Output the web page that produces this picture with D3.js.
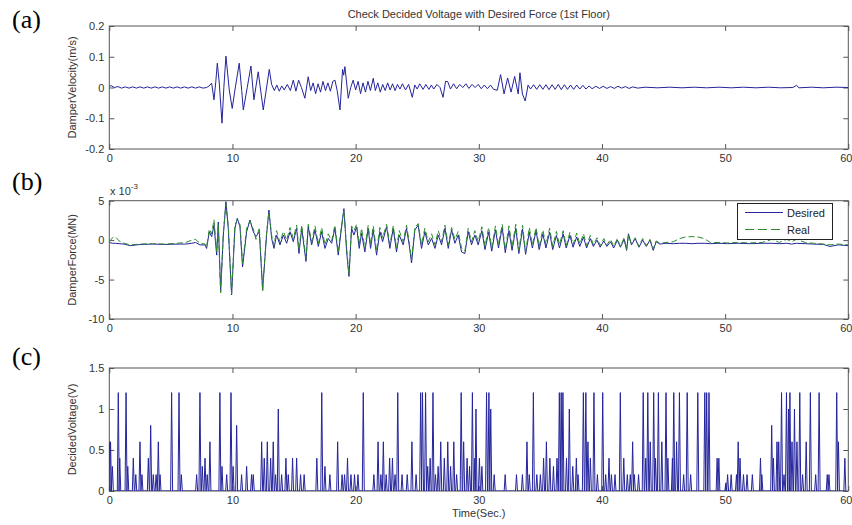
<!DOCTYPE html>
<html>
<head>
<meta charset="utf-8">
<script src="https://d3js.org/d3.v7.min.js"></script>
<style>
  body, html { margin: 0; padding: 0; background: #fff; }
  svg { font-family: Arial, "Liberation Sans", sans-serif; }
  .tick text { fill: #333; font-size: 11px; }
  .tick line { stroke: #555; }
  .domain { display: none; }
</style>
</head>
<body>
<div id="chart"></div>
<script>

// ---- data ----
var timeTicks = [0, 10, 20, 30, 40, 50, 60];
var velocityTicks = [-0.2, -0.1, 0, 0.1, 0.2];
var forceTicks = [-10, -5, 0, 5];        // x 10^-3
var voltageTicks = [0, 0.5, 1, 1.5];

// damper velocity (m/s): [time, value]
var velocity = [
  [0.0, 0.004], [0.15, 0.006], [0.4, 0.0], [0.7, 0.003], [1.0, -0.002], [1.3, 0.002], [1.6, -0.002],
  [1.9, 0.002], [2.2, -0.002], [2.5, 0.002], [2.8, -0.002], [3.1, 0.002], [3.4, -0.002], [3.7, 0.002],
  [4.0, -0.002], [4.3, 0.002], [4.6, -0.002], [4.9, 0.002], [5.2, -0.002], [5.5, 0.002], [5.8, -0.002],
  [6.1, 0.002], [6.4, -0.002], [6.7, 0.002], [7.0, -0.002], [7.3, 0.002], [7.6, -0.002], [7.9, 0.0],
  [8.1, 0.005], [8.31, 0.014], [8.5, -0.04], [8.65, 0.02], [8.77, 0.079], [8.93, 0.014], [9.15, -0.116],
  [9.3, 0.0], [9.47, 0.102], [9.74, -0.008], [9.98, -0.068], [10.2, -0.008], [10.55, 0.079], [10.75, -0.01],
  [10.88, -0.073], [11.2, 0.0], [11.5, 0.07], [11.74, -0.04], [12.09, 0.051], [12.5, -0.073], [12.99, 0.059],
  [13.18, 0.01], [13.4, -0.01], [13.6, 0.008], [13.8, -0.012], [14.0, 0.005], [14.2, -0.008], [14.45, 0.01],
  [14.7, -0.01], [14.94, 0.024], [15.15, -0.012], [15.37, 0.024], [15.6, 0.0], [15.88, -0.035], [16.15, 0.035],
  [16.35, -0.01], [16.55, 0.015], [16.75, -0.02], [16.95, 0.012], [17.15, -0.015], [17.35, 0.02], [17.55, -0.01],
  [17.75, 0.015], [17.95, -0.012], [18.15, 0.02], [18.32, 0.024], [18.5, -0.01], [18.73, -0.073], [18.94, 0.059],
  [19.03, 0.04], [19.13, 0.068], [19.4, -0.035], [19.6, 0.0], [19.8, 0.024], [20.0, -0.008], [20.2, 0.02],
  [20.4, -0.02], [20.6, 0.015], [20.8, -0.015], [21.0, 0.02], [21.2, -0.01], [21.43, 0.03], [21.6, -0.01],
  [21.8, 0.015], [22.0, -0.015], [22.2, 0.01], [22.4, -0.01], [22.6, 0.015], [22.8, -0.008], [23.0, 0.012],
  [23.2, -0.01], [23.4, 0.01], [23.6, -0.005], [23.8, 0.012], [24.05, -0.008], [24.3, 0.01], [24.6, -0.032],
  [24.8, 0.008], [25.0, -0.005], [25.2, 0.012], [25.48, -0.006], [25.7, 0.01], [25.95, -0.006], [26.15, 0.008],
  [26.34, -0.005], [26.6, 0.01], [26.85, 0.0], [27.1, -0.032], [27.3, 0.02], [27.48, 0.019], [27.7, -0.005],
  [27.95, 0.012], [28.2, -0.004], [28.45, 0.01], [28.7, 0.0], [28.95, 0.012], [29.2, -0.003], [29.45, 0.01],
  [29.7, 0.0], [29.95, 0.01], [30.2, -0.004], [30.45, 0.008], [30.7, -0.004], [30.95, 0.008], [31.2, -0.006],
  [31.5, -0.009], [31.77, 0.042], [32.05, -0.021], [32.34, 0.031], [32.62, -0.015], [32.91, 0.036], [33.2, -0.021],
  [33.34, 0.048], [33.54, -0.021], [33.77, -0.044], [34.0, 0.008], [34.2, -0.005], [34.45, 0.009], [34.7, -0.006],
  [34.95, 0.009], [35.2, -0.006], [35.45, 0.009], [35.7, -0.007], [35.95, 0.009], [36.2, -0.006], [36.45, 0.01],
  [36.7, -0.007], [36.95, 0.009], [37.2, -0.006], [37.45, 0.008], [37.7, -0.006], [37.95, 0.008], [38.2, -0.005],
  [38.45, 0.007], [38.7, -0.005], [38.95, 0.005], [39.2, -0.004], [39.5, 0.004], [39.8, -0.003], [40.1, 0.004],
  [40.4, -0.003], [40.7, 0.003], [41.0, -0.003], [41.3, 0.004], [41.6, -0.002], [41.9, 0.003], [42.2, -0.003],
  [42.5, 0.002], [42.9, -0.002], [43.5, 0.001], [44.5, -0.001], [45.5, 0.001], [46.5, -0.001], [47.5, 0.001],
  [48.5, -0.001], [49.5, 0.001], [50.5, -0.001], [51.5, 0.001], [52.5, -0.001], [53.5, 0.001], [54.5, -0.001],
  [55.5, 0.0], [55.8, 0.007], [56.0, -0.001], [57, 0.001], [58, -0.001], [59, 0.001], [60, 0.0]
];

// damper force (x 10^-3 MN): [time, desired, real]
var force = [
  [0.0, -0.3, -0.2], [0.25, -0.4, 0.3], [0.5, -0.4, 0.4], [0.8, -0.45, -0.1], [1.2, -0.5, -0.4],
  [1.7, -0.7, -0.6], [2.5, -0.55, -0.5], [3.5, -0.5, -0.45], [4.5, -0.55, -0.5], [5.5, -0.5, -0.4],
  [6.2, -0.5, -0.3], [6.7, -0.4, 0.0], [7.0, -0.3, 0.1], [7.36, -0.6, -0.4], [7.77, -0.6, -0.5],
  [7.9, -1.05, -0.9], [8.12, 1.07, 1.4], [8.31, 0.44, 0.8], [8.5, 1.9, 2.6], [8.72, -1.9, -1.5],
  [8.85, 2.3, 2.0], [9.04, -6.5, -6.7], [9.26, 0.65, 1.0], [9.47, 4.87, 4.6], [9.66, 1.5, 1.8],
  [9.93, -6.96, -6.8], [10.2, 1.5, 1.9], [10.39, 2.76, 2.6], [10.61, 1.7, 2.0], [10.82, -3.4, -3.0],
  [11.15, 1.07, 1.5], [11.42, 2.55, 2.4], [11.69, 1.07, 1.4], [11.91, 0.44, 0.1], [12.18, 1.07, 1.6],
  [12.45, -6.3, -6.5], [12.77, 0.65, 1.0], [12.96, 3.82, 3.5], [13.18, 0.22, 0.6], [13.37, -1.05, -0.7],
  [13.58, 0.65, 1.2], [13.86, -0.6, -0.3], [14.13, 0.65, 1.1], [14.4, -0.4, 0.0], [14.67, 1.07, 1.6],
  [14.94, -0.2, 0.2], [15.21, 1.5, 1.9], [15.4, -1.7, -1.3], [15.62, 1.5, 1.9], [15.97, -2.7, -2.3],
  [16.15, 1.7, 2.0], [16.43, -0.6, -0.2], [16.7, 1.3, 1.8], [16.97, -0.8, -0.5], [17.24, 1.07, 1.6],
  [17.51, -1.05, -0.6], [17.78, 0.22, 0.8], [18.05, -0.4, -0.1], [18.32, 1.5, 1.9], [18.59, -1.9, -1.6],
  [18.78, 0.65, 1.0], [19.05, 4.0, 3.8], [19.27, -1.5, -1.0], [19.46, -4.6, -4.4], [19.67, 1.5, 1.8],
  [19.86, 0.65, 1.2], [20.08, 1.7, 2.0], [20.29, -1.05, -0.6], [20.48, 0.86, 1.5], [20.75, -1.5, -1.0],
  [21.02, 1.5, 1.9], [21.21, -1.05, -0.6], [21.43, 1.3, 1.8], [21.7, -1.9, -1.4], [21.97, 1.07, 1.6],
  [22.19, -0.2, 0.3], [22.51, 1.7, 2.0], [22.78, -1.05, -0.6], [23.05, 1.5, 1.8], [23.32, -1.5, -1.0],
  [23.54, 0.65, 1.2], [23.86, -0.6, -0.2], [24.13, 1.5, 1.9], [24.35, -0.6, -0.2], [24.54, -2.9, -2.5],
  [24.81, 1.3, 1.6], [25.08, 1.9, 2.1], [25.35, -1.05, -0.6], [25.62, 1.07, 1.5], [25.9, -0.6, -0.2],
  [26.17, 0.22, 0.8], [26.44, -1.05, -0.6], [26.71, 0.65, 1.2], [26.98, -0.6, -0.2], [27.25, 1.5, 1.9],
  [27.52, -1.05, -0.6], [27.79, 1.3, 1.6], [28.06, -0.4, 0.1], [28.33, 0.65, 1.1], [28.6, -1.5, -1.0],
  [28.87, -1.7, -1.4], [29.14, 1.07, 1.5], [29.41, -0.6, -0.2], [29.68, 0.65, 1.2], [29.95, -0.6, -0.2],
  [30.25, 1.2, 1.7], [30.5, -1.2, -0.8], [30.8, 1.0, 1.6], [31.05, -1.4, -1.0], [31.35, 1.3, 1.8],
  [31.6, -1.0, -0.6], [31.9, 1.6, 2.0], [32.15, -1.6, -1.2], [32.45, 1.2, 1.8], [32.7, -1.3, -0.9],
  [33.0, 1.5, 2.0], [33.25, -1.7, -1.3], [33.55, 1.4, 1.9], [33.8, -1.8, -1.5], [34.1, 1.0, 1.6],
  [34.35, -1.0, -0.6], [34.65, 1.2, 1.6], [34.9, -1.2, -0.8], [35.2, 0.8, 1.3], [35.45, -1.0, -0.6],
  [35.75, 1.0, 1.5], [36.0, -1.2, -0.8], [36.3, 0.6, 1.1], [36.55, -1.0, -0.6], [36.85, 0.8, 1.2],
  [37.1, -1.0, -0.7], [37.4, 0.6, 1.0], [37.65, -0.9, -0.6], [37.95, 0.4, 0.9], [38.2, -0.8, -0.5],
  [38.5, 0.4, 0.8], [38.75, -1.0, -0.7], [39.05, 0.2, 0.6], [39.3, -0.8, -0.6], [39.6, 0.0, 0.3],
  [39.85, -0.9, -0.7], [40.15, -0.1, 0.2], [40.4, -0.8, -0.6], [40.7, -0.2, 0.1], [40.95, -1.0, -0.8],
  [41.25, 0.0, 0.2], [41.5, -0.9, -0.8], [41.8, 0.1, 0.3], [42.0, -1.3, -1.2], [42.15, 0.8, 0.6],
  [42.4, -0.6, -0.5], [42.7, 0.2, 0.3], [43.0, -0.9, -0.8], [43.3, 0.0, 0.2], [43.6, -0.8, -0.7],
  [43.9, 0.0, 0.1], [44.16, -1.3, -1.1], [44.4, -0.2, -0.1], [44.7, -0.5, -0.4], [45.2, -0.4, -0.3],
  [45.8, -0.45, -0.2], [46.3, -0.4, 0.2], [46.8, -0.4, 0.4], [47.3, -0.45, 0.45], [47.8, -0.4, 0.4],
  [48.3, -0.4, 0.2], [48.8, -0.45, -0.3], [49.5, -0.4, -0.3], [50.2, -0.45, -0.35], [51, -0.4, -0.3],
  [52, -0.45, -0.35], [53, -0.4, -0.3], [53.8, -0.4, 0.1], [54.4, -0.45, -0.3], [55.0, -0.4, 0.1],
  [55.4, -0.5, -0.2], [55.8, -0.4, 0.1], [56.5, -0.45, -0.3], [57.2, -0.5, -0.4], [58, -0.55, -0.5],
  [58.5, -0.8, -0.6], [59.2, -0.6, -0.5], [60, -0.7, -0.6]
];

// decided voltage (V): spike peaks [time, value]
var voltagePeaks = [
  [0.0, 0.6], [0.1, 0.6], [0.25, 0.3], [0.73, 1.2], [0.85, 0.4], [1.36, 1.2], [1.5, 0.3], [1.95, 0.4],
  [2.15, 0.2], [2.49, 0.6], [2.65, 0.2], [3.17, 0.4], [3.36, 0.8], [3.57, 0.2], [3.8, 0.2], [3.98, 0.6],
  [4.12, 0.2], [5.06, 1.2], [5.66, 1.2], [5.85, 0.2], [7.09, 0.2], [7.36, 1.2], [7.55, 0.3], [7.77, 0.4],
  [7.95, 0.2], [8.17, 0.6], [8.98, 1.2], [9.15, 0.3], [9.53, 0.2], [9.88, 1.2], [10.05, 0.3], [10.34, 0.8],
  [10.74, 0.2], [11.15, 0.3], [11.55, 0.2], [11.69, 0.2], [12.37, 0.6], [12.58, 0.4], [12.83, 0.6],
  [13.1, 0.4], [13.31, 0.6], [13.5, 0.2], [13.72, 1.0], [13.99, 0.2], [14.34, 0.4], [14.53, 0.2],
  [14.88, 0.4], [15.21, 0.4], [15.53, 0.2], [15.82, 0.2], [16.85, 0.4], [17.25, 1.2], [17.51, 0.3],
  [17.91, 0.2], [18.54, 0.6], [18.9, 0.2], [19.1, 0.2], [19.34, 0.4], [19.62, 0.2], [19.91, 0.2],
  [20.19, 0.2], [20.62, 1.2], [21.48, 0.2], [21.82, 0.6], [22.05, 0.2], [22.25, 0.6], [22.48, 0.2],
  [22.76, 0.4], [22.99, 0.4], [23.2, 0.2], [23.42, 1.2], [23.77, 0.2], [24.19, 0.2], [24.57, 0.6],
  [24.91, 0.2], [25.28, 1.2], [25.43, 1.2], [25.68, 1.2], [25.85, 0.3], [26.05, 0.4], [26.28, 1.2],
  [26.48, 0.2], [26.7, 0.3], [26.91, 0.6], [27.2, 0.4], [27.48, 0.6], [27.71, 0.3], [27.97, 0.6],
  [28.2, 0.2], [28.57, 1.2], [28.77, 0.6], [29.05, 0.4], [29.25, 0.3], [29.48, 1.2], [29.68, 0.4],
  [29.77, 1.0], [30.05, 0.4], [30.25, 0.3], [30.63, 1.2], [30.82, 1.2], [30.97, 1.0], [31.25, 0.2],
  [32.14, 0.2], [33.06, 0.2], [33.54, 0.2], [33.91, 0.6], [34.1, 0.2], [34.43, 1.2], [34.71, 0.2],
  [35.0, 0.2], [35.26, 0.4], [35.49, 0.6], [35.77, 0.4], [36.06, 0.3], [36.35, 0.4], [36.54, 1.2],
  [36.69, 1.2], [36.83, 1.2], [37.12, 0.4], [37.35, 1.0], [37.63, 0.3], [37.92, 0.4], [38.06, 0.2],
  [38.49, 1.2], [38.69, 1.2], [38.86, 0.6], [39.06, 0.4], [39.35, 1.2], [39.63, 0.2], [40.06, 1.2],
  [40.3, 0.2], [40.57, 0.4], [40.77, 0.2], [41.06, 0.2], [41.49, 1.2], [41.77, 0.4], [42.06, 0.2],
  [42.3, 0.2], [42.49, 0.6], [42.63, 0.2], [42.97, 0.2], [43.35, 1.2], [43.55, 0.4], [43.72, 1.2],
  [43.92, 0.6], [44.2, 1.2], [44.35, 0.4], [44.58, 1.2], [44.86, 0.6], [45.2, 1.2], [45.35, 0.4],
  [45.72, 0.4], [45.83, 1.2], [46.06, 0.6], [46.29, 1.2], [46.63, 0.2], [46.92, 1.2], [47.2, 0.2],
  [47.78, 1.2], [48.35, 1.2], [48.5, 1.2], [48.69, 1.2], [49.35, 0.4], [49.49, 0.4], [50.06, 0.1],
  [50.2, 0.2], [50.49, 0.2], [50.92, 0.2], [51.06, 0.6], [51.21, 0.4], [51.49, 0.2], [51.78, 0.2],
  [52.21, 0.2], [52.87, 0.4], [52.98, 0.2], [53.78, 0.8], [53.92, 0.4], [54.21, 0.6], [54.35, 0.6],
  [54.58, 1.2], [54.78, 0.2], [54.98, 1.2], [55.15, 1.0], [55.26, 1.2], [55.43, 0.6], [55.63, 1.0],
  [55.83, 0.6], [56.06, 1.2], [56.29, 0.2], [56.58, 0.6], [56.92, 1.2], [57.35, 0.2], [57.63, 1.2],
  [58.29, 0.2], [58.43, 0.2], [59.06, 1.2], [59.2, 0.6], [59.72, 0.4]
];

// ---- layout ----
var W = 852, H = 525;
var plotLeft = 109.3, plotRight = 848.3;
var blue = "#24249c", green = "#2e8b2e", axisColor = "#555";

var svg = d3.select("#chart").append("svg")
    .attr("width", W)
    .attr("height", H);

svg.append("rect").attr("width", W).attr("height", H).attr("fill", "#fff");

var x = d3.scaleLinear().domain([0, 60]).range([plotLeft, plotRight]);

function fmt(d) { return String(d); }

var clipCount = 0;

// draws the box, inward ticks and labels of one panel, returns its y scale and clip id
function drawPanel(top, bottom, yDomain, yTicks, yLabel) {
    var y = d3.scaleLinear().domain(yDomain).range([bottom, top]);
    var g = svg.append("g");

    var id = "clip" + (clipCount++);
    svg.append("clipPath").attr("id", id)
      .append("rect")
        .attr("x", plotLeft).attr("y", top)
        .attr("width", plotRight - plotLeft).attr("height", bottom - top);

    var bx = g.append("g")
        .attr("transform", "translate(0," + bottom + ")")
        .call(d3.axisBottom(x).tickValues(timeTicks).tickSizeInner(-5).tickSizeOuter(0).tickPadding(5).tickFormat(fmt));
    // last label sits on the window edge: keep it inside
    bx.selectAll(".tick text")
        .filter(function (d) { return d === 60; })
        .attr("text-anchor", "end")
        .attr("x", W - plotRight);

    g.append("g")
        .attr("transform", "translate(0," + top + ")")
        .call(d3.axisTop(x).tickValues(timeTicks).tickSizeInner(-5).tickSizeOuter(0).tickFormat(""));
    g.append("g")
        .attr("transform", "translate(" + plotLeft + ",0)")
        .call(d3.axisLeft(y).tickValues(yTicks).tickSizeInner(-5).tickSizeOuter(0).tickPadding(5).tickFormat(fmt));
    g.append("g")
        .attr("transform", "translate(" + plotRight + ",0)")
        .call(d3.axisRight(y).tickValues(yTicks).tickSizeInner(-5).tickSizeOuter(0).tickFormat(""));

    g.append("rect")
        .attr("x", plotLeft).attr("y", top)
        .attr("width", plotRight - plotLeft).attr("height", bottom - top)
        .attr("fill", "none")
        .attr("stroke", axisColor)
        .attr("stroke-width", 1);

    // y axis label
    svg.append("text")
        .attr("transform", "translate(76," + ((top + bottom) / 2) + ") rotate(-90)")
        .attr("text-anchor", "middle")
        .attr("font-size", 11)
        .attr("fill", "#333")
        .text(yLabel);

    return { y: y, clip: "url(#" + id + ")" };
}

// ---- (a) damper velocity ----
var pa = drawPanel(26, 149, [-0.2, 0.2], velocityTicks, "DamperVelocity(m/s)");
svg.append("path")
    .datum(velocity)
    .attr("clip-path", pa.clip)
    .attr("fill", "none")
    .attr("stroke", blue)
    .attr("stroke-width", 1)
    .attr("d", d3.line().x(function (d) { return x(d[0]); }).y(function (d) { return pa.y(d[1]); }));

// ---- (b) damper force ----
var pb = drawPanel(200.7, 319, [-10, 5], forceTicks, "DamperForce(MN)");
svg.append("path")
    .datum(force)
    .attr("clip-path", pb.clip)
    .attr("fill", "none")
    .attr("stroke", blue)
    .attr("stroke-width", 1)
    .attr("d", d3.line().x(function (d) { return x(d[0]); }).y(function (d) { return pb.y(d[1]); }));
svg.append("path")
    .datum(force)
    .attr("clip-path", pb.clip)
    .attr("fill", "none")
    .attr("stroke", green)
    .attr("stroke-width", 1)
    .attr("stroke-dasharray", "6,3")
    .attr("d", d3.line().x(function (d) { return x(d[0]); }).y(function (d) { return pb.y(d[2]); }));

// exponent note
var expo = svg.append("text")
    .attr("x", 110).attr("y", 195)
    .attr("font-size", 11)
    .attr("fill", "#333")
    .text("x 10");
expo.append("tspan").attr("dy", -6).attr("font-size", 8).text("-3");

// legend
var lg = svg.append("g");
lg.append("rect")
    .attr("x", 737.5).attr("y", 203.5).attr("width", 95).attr("height", 36)
    .attr("fill", "#fff").attr("stroke", "#222").attr("stroke-width", 1);
lg.append("line").attr("x1", 745).attr("x2", 783).attr("y1", 212.5).attr("y2", 212.5)
    .attr("stroke", blue).attr("stroke-width", 1);
lg.append("line").attr("x1", 745).attr("x2", 783).attr("y1", 229.5).attr("y2", 229.5)
    .attr("stroke", green).attr("stroke-width", 1).attr("stroke-dasharray", "9,4");
lg.append("text").attr("x", 787).attr("y", 216.5).attr("font-size", 11).attr("fill", "#222").text("Desired");
lg.append("text").attr("x", 787).attr("y", 233.5).attr("font-size", 11).attr("fill", "#222").text("Real");

// ---- (c) decided voltage ----
var pc = drawPanel(368, 491, [0, 1.5], voltageTicks, "DecidedVoltage(V)");
var halfWidth = 0.08;   // spike half width in seconds
var voltPath = [];
voltagePeaks.forEach(function (p) {
    voltPath.push([p[0] - halfWidth, 0], [p[0], p[1]], [p[0] + halfWidth, 0]);
});
svg.append("path")
    .datum(voltPath)
    .attr("clip-path", pc.clip)
    .attr("fill", "none")
    .attr("stroke", blue)
    .attr("stroke-width", 1)
    .attr("d", d3.line().x(function (d) { return x(d[0]); }).y(function (d) { return pc.y(d[1]); }));

// titles
svg.append("text")
    .attr("x", (plotLeft + plotRight) / 2).attr("y", 18)
    .attr("text-anchor", "middle")
    .attr("font-size", 11)
    .attr("fill", "#333")
    .text("Check Decided Voltage with Desired Force (1st Floor)");

svg.append("text")
    .attr("x", (plotLeft + plotRight) / 2).attr("y", 517)
    .attr("text-anchor", "middle")
    .attr("font-size", 11)
    .attr("fill", "#333")
    .text("Time(Sec.)");

// panel letters
var letters = [["(a)", 28], ["(b)", 190], ["(c)", 365]];
letters.forEach(function (l) {
    svg.append("text")
        .attr("x", 12).attr("y", l[1])
        .attr("font-family", "'Liberation Serif', 'Times New Roman', serif")
        .attr("font-size", 26)
        .attr("fill", "#000")
        .text(l[0]);
});

</script>
</body>
</html>
